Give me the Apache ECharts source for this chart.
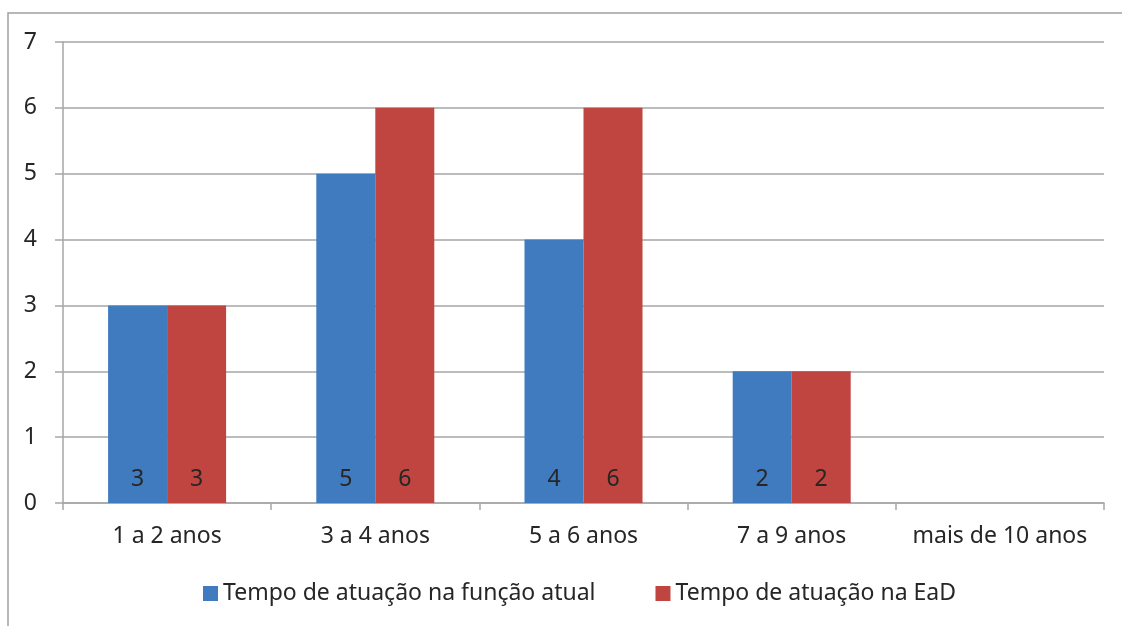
<!DOCTYPE html>
<html>
<head>
<meta charset="utf-8">
<script src="https://cdn.jsdelivr.net/npm/echarts@6/dist/echarts.min.js"></script>
<style>
  html, body { margin: 0; padding: 0; background: #fff; }
  #chart { width: 1122px; height: 626px; }
</style>
</head>
<body>
<div id="chart"></div>
<script>
// Categories (anos de atuação) and the two series
const categories = ['1 a 2 anos', '3 a 4 anos', '5 a 6 anos', '7 a 9 anos', 'mais de 10 anos'];
const funcaoAtual = [3, 5, 4, 2, 0];
const atuacaoEaD = [3, 6, 6, 2, 0];
const seriesNames = ['Tempo de atuação na função atual', 'Tempo de atuação na EaD'];
const yTicks = [0, 1, 2, 3, 4, 5, 6, 7];

const FONT = '"Noto Sans", "Open Sans", sans-serif';
const TEXT = '#262626';
const LINE = '#A6A6A6';
const FS = 23;

const chart = echarts.init(document.getElementById('chart'), null, { renderer: 'canvas' });

const labelCfg = {
  show: true,
  position: 'insideBottom',
  distance: 12,
  color: TEXT,
  fontFamily: FONT,
  fontSize: FS,
  formatter: p => (p.value > 0 ? p.value : '')
};

chart.setOption({
  animation: false,
  graphic: [{
    type: 'rect',
    shape: { x: 8, y: 13, width: 1200, height: 700 },
    style: { fill: 'none', stroke: '#A0A0A0', lineWidth: 1.5 },
    silent: true
  }],
  grid: { left: 63, right: 18, top: 42, bottom: 123, containLabel: false },
  legend: {
    data: seriesNames,
    top: 577,
    left: 198,
    icon: 'rect',
    itemWidth: 15,
    itemHeight: 15,
    itemGap: 60,
    textStyle: { color: TEXT, fontFamily: FONT, fontSize: FS }
  },
  xAxis: {
    type: 'category',
    data: categories,
    axisLine: { show: true, lineStyle: { color: LINE, width: 1.5 } },
    axisTick: { show: true, interval: 0, length: 7, lineStyle: { color: LINE, width: 1.5 } },
    axisLabel: { interval: 0, color: TEXT, fontFamily: FONT, fontSize: FS, margin: 22 }
  },
  yAxis: {
    type: 'value',
    min: yTicks[0],
    max: yTicks[yTicks.length - 1],
    interval: 1,
    axisLine: { show: true, lineStyle: { color: LINE, width: 1.5 } },
    axisTick: { show: true, length: 8, lineStyle: { color: LINE, width: 1.5 } },
    splitLine: { show: true, lineStyle: { color: LINE, width: 1.5 } },
    axisLabel: { color: TEXT, fontFamily: FONT, fontSize: FS, margin: 26 }
  },
  series: [
    {
      name: seriesNames[0],
      type: 'bar',
      data: funcaoAtual,
      barWidth: 59,
      barGap: '0%',
      itemStyle: { color: '#3F7BBE' },
      label: labelCfg
    },
    {
      name: seriesNames[1],
      type: 'bar',
      data: atuacaoEaD,
      barWidth: 59,
      barGap: '0%',
      itemStyle: { color: '#C0443F' },
      label: labelCfg
    }
  ]
});
</script>
</body>
</html>
